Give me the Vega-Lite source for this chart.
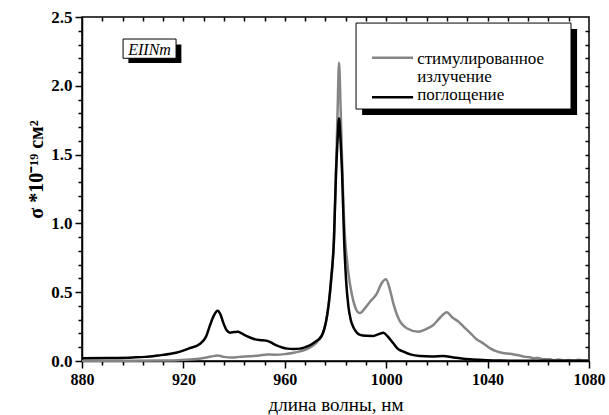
{
  "$schema": "https://vega.github.io/schema/vega-lite/v6.json",
  "width": 507,
  "height": 344,
  "autosize": {"type": "none"},
  "padding": {"left": 82, "top": 17, "right": 20, "bottom": 54},
  "background": "white",
  "config": {
    "font": "Liberation Serif",
    "view": {"stroke": "black", "strokeWidth": 1.5},
    "axis": {
      "grid": false,
      "domainColor": "black",
      "domainWidth": 1.5,
      "tickColor": "black",
      "tickWidth": 1.5,
      "labelColor": "black",
      "titleColor": "black",
      "labelFlush": false
    }
  },
  "datasets": {
    "spectra": [
      {"series": "стимулированное излучение", "nm": 880, "sigma": 0.002},
      {"series": "стимулированное излучение", "nm": 890, "sigma": 0.002},
      {"series": "стимулированное излучение", "nm": 900, "sigma": 0.002},
      {"series": "стимулированное излучение", "nm": 910, "sigma": 0.003},
      {"series": "стимулированное излучение", "nm": 918, "sigma": 0.005},
      {"series": "стимулированное излучение", "nm": 924, "sigma": 0.012},
      {"series": "стимулированное излучение", "nm": 928, "sigma": 0.022},
      {"series": "стимулированное излучение", "nm": 931, "sigma": 0.033},
      {"series": "стимулированное излучение", "nm": 933.5, "sigma": 0.04},
      {"series": "стимулированное излучение", "nm": 936, "sigma": 0.03},
      {"series": "стимулированное излучение", "nm": 939, "sigma": 0.025},
      {"series": "стимулированное излучение", "nm": 942, "sigma": 0.03},
      {"series": "стимулированное излучение", "nm": 946, "sigma": 0.034},
      {"series": "стимулированное излучение", "nm": 950, "sigma": 0.04},
      {"series": "стимулированное излучение", "nm": 953, "sigma": 0.048},
      {"series": "стимулированное излучение", "nm": 956, "sigma": 0.046},
      {"series": "стимулированное излучение", "nm": 960, "sigma": 0.05},
      {"series": "стимулированное излучение", "nm": 963, "sigma": 0.058},
      {"series": "стимулированное излучение", "nm": 966, "sigma": 0.07},
      {"series": "стимулированное излучение", "nm": 968.5, "sigma": 0.085},
      {"series": "стимулированное излучение", "nm": 971, "sigma": 0.11},
      {"series": "стимулированное излучение", "nm": 973, "sigma": 0.145},
      {"series": "стимулированное излучение", "nm": 974.5, "sigma": 0.18},
      {"series": "стимулированное излучение", "nm": 975.5, "sigma": 0.23},
      {"series": "стимулированное излучение", "nm": 976.5, "sigma": 0.31},
      {"series": "стимулированное излучение", "nm": 977.2, "sigma": 0.4},
      {"series": "стимулированное излучение", "nm": 978, "sigma": 0.52},
      {"series": "стимулированное излучение", "nm": 978.8, "sigma": 0.7},
      {"series": "стимулированное излучение", "nm": 979.4, "sigma": 0.9},
      {"series": "стимулированное излучение", "nm": 980.2, "sigma": 1.38},
      {"series": "стимулированное излучение", "nm": 980.8, "sigma": 1.8},
      {"series": "стимулированное излучение", "nm": 981.4, "sigma": 2.168},
      {"series": "стимулированное излучение", "nm": 982, "sigma": 1.85},
      {"series": "стимулированное излучение", "nm": 982.6, "sigma": 1.45},
      {"series": "стимулированное излучение", "nm": 983.2, "sigma": 1.1},
      {"series": "стимулированное излучение", "nm": 983.8, "sigma": 0.88},
      {"series": "стимулированное излучение", "nm": 984.5, "sigma": 0.74},
      {"series": "стимулированное излучение", "nm": 985.1, "sigma": 0.637},
      {"series": "стимулированное излучение", "nm": 986.5, "sigma": 0.48},
      {"series": "стимулированное излучение", "nm": 987.7, "sigma": 0.395},
      {"series": "стимулированное излучение", "nm": 988.8, "sigma": 0.355},
      {"series": "стимулированное излучение", "nm": 989.7, "sigma": 0.348},
      {"series": "стимулированное излучение", "nm": 991, "sigma": 0.37},
      {"series": "стимулированное излучение", "nm": 993.6, "sigma": 0.431},
      {"series": "стимулированное излучение", "nm": 996.3, "sigma": 0.49},
      {"series": "стимулированное излучение", "nm": 998.2, "sigma": 0.565},
      {"series": "стимулированное излучение", "nm": 999.9, "sigma": 0.594},
      {"series": "стимулированное излучение", "nm": 1001.5, "sigma": 0.516},
      {"series": "стимулированное излучение", "nm": 1002.8, "sigma": 0.419},
      {"series": "стимулированное излучение", "nm": 1004.8, "sigma": 0.31},
      {"series": "стимулированное излучение", "nm": 1008.1, "sigma": 0.238},
      {"series": "стимулированное излучение", "nm": 1012.7, "sigma": 0.213},
      {"series": "стимулированное излучение", "nm": 1015.5, "sigma": 0.23},
      {"series": "стимулированное излучение", "nm": 1018.6, "sigma": 0.262},
      {"series": "стимулированное излучение", "nm": 1021.5, "sigma": 0.32},
      {"series": "стимулированное излучение", "nm": 1023.9, "sigma": 0.354},
      {"series": "стимулированное излучение", "nm": 1026, "sigma": 0.318},
      {"series": "стимулированное излучение", "nm": 1028.5, "sigma": 0.286},
      {"series": "стимулированное излучение", "nm": 1030.5, "sigma": 0.25},
      {"series": "стимулированное излучение", "nm": 1033.1, "sigma": 0.205},
      {"series": "стимулированное излучение", "nm": 1035.5, "sigma": 0.16},
      {"series": "стимулированное излучение", "nm": 1038.3, "sigma": 0.128},
      {"series": "стимулированное излучение", "nm": 1041, "sigma": 0.092},
      {"series": "стимулированное излучение", "nm": 1043.6, "sigma": 0.07},
      {"series": "стимулированное излучение", "nm": 1046, "sigma": 0.058},
      {"series": "стимулированное излучение", "nm": 1048.8, "sigma": 0.052},
      {"series": "стимулированное излучение", "nm": 1051, "sigma": 0.045},
      {"series": "стимулированное излучение", "nm": 1053, "sigma": 0.038},
      {"series": "стимулированное излучение", "nm": 1055, "sigma": 0.03},
      {"series": "стимулированное излучение", "nm": 1056.7, "sigma": 0.027},
      {"series": "стимулированное излучение", "nm": 1058, "sigma": 0.02},
      {"series": "стимулированное излучение", "nm": 1060, "sigma": 0.022},
      {"series": "стимулированное излучение", "nm": 1062, "sigma": 0.012},
      {"series": "стимулированное излучение", "nm": 1064.6, "sigma": 0.012},
      {"series": "стимулированное излучение", "nm": 1066, "sigma": 0.006},
      {"series": "стимулированное излучение", "nm": 1068, "sigma": 0.01},
      {"series": "стимулированное излучение", "nm": 1070, "sigma": 0.004},
      {"series": "стимулированное излучение", "nm": 1072, "sigma": 0.008},
      {"series": "стимулированное излучение", "nm": 1074, "sigma": 0.003},
      {"series": "стимулированное излучение", "nm": 1076, "sigma": 0.009},
      {"series": "стимулированное излучение", "nm": 1078, "sigma": 0.003},
      {"series": "стимулированное излучение", "nm": 1080, "sigma": 0.004},
      {"series": "поглощение", "nm": 880, "sigma": 0.02},
      {"series": "поглощение", "nm": 890, "sigma": 0.022},
      {"series": "поглощение", "nm": 900, "sigma": 0.026},
      {"series": "поглощение", "nm": 905, "sigma": 0.03},
      {"series": "поглощение", "nm": 910, "sigma": 0.04},
      {"series": "поглощение", "nm": 915, "sigma": 0.052},
      {"series": "поглощение", "nm": 918.7, "sigma": 0.068},
      {"series": "поглощение", "nm": 922, "sigma": 0.09},
      {"series": "поглощение", "nm": 926.6, "sigma": 0.125},
      {"series": "поглощение", "nm": 929, "sigma": 0.18},
      {"series": "поглощение", "nm": 930.5, "sigma": 0.26},
      {"series": "поглощение", "nm": 932, "sigma": 0.33},
      {"series": "поглощение", "nm": 933.5, "sigma": 0.366},
      {"series": "поглощение", "nm": 934.6, "sigma": 0.34},
      {"series": "поглощение", "nm": 935.7, "sigma": 0.28},
      {"series": "поглощение", "nm": 937, "sigma": 0.225},
      {"series": "поглощение", "nm": 938.4, "sigma": 0.206},
      {"series": "поглощение", "nm": 940, "sigma": 0.21},
      {"series": "поглощение", "nm": 941.5, "sigma": 0.213},
      {"series": "поглощение", "nm": 943, "sigma": 0.2},
      {"series": "поглощение", "nm": 945, "sigma": 0.18},
      {"series": "поглощение", "nm": 947.5, "sigma": 0.162},
      {"series": "поглощение", "nm": 950, "sigma": 0.152},
      {"series": "поглощение", "nm": 952.6, "sigma": 0.148},
      {"series": "поглощение", "nm": 954.5, "sigma": 0.135},
      {"series": "поглощение", "nm": 956.5, "sigma": 0.115},
      {"series": "поглощение", "nm": 959, "sigma": 0.098},
      {"series": "поглощение", "nm": 961, "sigma": 0.09},
      {"series": "поглощение", "nm": 963.4, "sigma": 0.087},
      {"series": "поглощение", "nm": 966, "sigma": 0.09},
      {"series": "поглощение", "nm": 968, "sigma": 0.1},
      {"series": "поглощение", "nm": 970, "sigma": 0.115},
      {"series": "поглощение", "nm": 972, "sigma": 0.14},
      {"series": "поглощение", "nm": 973.5, "sigma": 0.16},
      {"series": "поглощение", "nm": 975, "sigma": 0.2},
      {"series": "поглощение", "nm": 976.2, "sigma": 0.28},
      {"series": "поглощение", "nm": 977.2, "sigma": 0.395},
      {"series": "поглощение", "nm": 978.3, "sigma": 0.6},
      {"series": "поглощение", "nm": 979.4, "sigma": 0.88},
      {"series": "поглощение", "nm": 980.2, "sigma": 1.364},
      {"series": "поглощение", "nm": 980.8, "sigma": 1.6},
      {"series": "поглощение", "nm": 981.4, "sigma": 1.764},
      {"series": "поглощение", "nm": 982, "sigma": 1.6},
      {"series": "поглощение", "nm": 982.6, "sigma": 1.364},
      {"series": "поглощение", "nm": 983.4, "sigma": 0.88},
      {"series": "поглощение", "nm": 984.2, "sigma": 0.58},
      {"series": "поглощение", "nm": 985.1, "sigma": 0.395},
      {"series": "поглощение", "nm": 986, "sigma": 0.3},
      {"series": "поглощение", "nm": 987.2, "sigma": 0.24},
      {"series": "поглощение", "nm": 988.5, "sigma": 0.205},
      {"series": "поглощение", "nm": 989.7, "sigma": 0.19},
      {"series": "поглощение", "nm": 992, "sigma": 0.183},
      {"series": "поглощение", "nm": 994.9, "sigma": 0.182},
      {"series": "поглощение", "nm": 997, "sigma": 0.195},
      {"series": "поглощение", "nm": 998.9, "sigma": 0.206},
      {"series": "поглощение", "nm": 1000.5, "sigma": 0.18},
      {"series": "поглощение", "nm": 1002.8, "sigma": 0.129},
      {"series": "поглощение", "nm": 1004.5, "sigma": 0.09},
      {"series": "поглощение", "nm": 1006.8, "sigma": 0.068},
      {"series": "поглощение", "nm": 1009.5, "sigma": 0.048},
      {"series": "поглощение", "nm": 1013.3, "sigma": 0.036},
      {"series": "поглощение", "nm": 1018, "sigma": 0.033},
      {"series": "поглощение", "nm": 1022.5, "sigma": 0.036},
      {"series": "поглощение", "nm": 1026, "sigma": 0.028},
      {"series": "поглощение", "nm": 1029.1, "sigma": 0.02},
      {"series": "поглощение", "nm": 1033, "sigma": 0.012},
      {"series": "поглощение", "nm": 1039.6, "sigma": 0.006},
      {"series": "поглощение", "nm": 1045, "sigma": 0.003},
      {"series": "поглощение", "nm": 1050, "sigma": 0.002},
      {"series": "поглощение", "nm": 1060, "sigma": 0.001},
      {"series": "поглощение", "nm": 1070, "sigma": 0.001},
      {"series": "поглощение", "nm": 1080, "sigma": 0.001}
    ]
  },
  "data": {"name": "spectra"},
  "layer": [
    {
      "mark": {"type": "line", "strokeWidth": 2.5, "interpolate": "monotone"},
      "encoding": {
        "x": {
          "field": "nm", "type": "quantitative",
          "scale": {"domain": [880, 1080], "nice": false, "zero": false},
          "axis": {
            "orient": "bottom", "values": [880, 920, 960, 1000, 1040, 1080], "format": "d",
            "tickSize": 7, "labelPadding": 3, "labelFlush": false,
            "labelFont": "Liberation Serif", "labelFontWeight": "bold", "labelFontSize": 16,
            "title": "длина волны, нм",
            "titleFont": "Liberation Serif", "titleFontWeight": "normal", "titleFontSize": 19,
            "titlePadding": 8
          }
        },
        "y": {
          "field": "sigma", "type": "quantitative",
          "scale": {"domain": [0, 2.5], "nice": false},
          "axis": {
            "orient": "left", "values": [0, 0.5, 1, 1.5, 2, 2.5], "format": ".1f",
            "tickSize": 7, "labelPadding": 3, "labelFlush": false,
            "labelFont": "Liberation Serif", "labelFontWeight": "bold", "labelFontSize": 17,
            "title": "σ *10⁻¹⁹ см²",
            "titleFont": "Liberation Serif", "titleFontWeight": "bold", "titleFontSize": 20,
            "titlePadding": 4, "titleY": 152
          }
        },
        "color": {
          "field": "series", "type": "nominal",
          "scale": {"domain": ["стимулированное излучение", "поглощение"], "range": ["#858585", "#000000"]},
          "legend": null
        }
      }
    },
    {
      "mark": {"type": "point", "opacity": 0},
      "encoding": {
        "x": {
          "field": "nm", "type": "quantitative",
          "scale": {"domain": [880, 1080], "nice": false, "zero": false},
          "axis": {
            "orient": "bottom", "labels": false, "domain": false, "title": null, "tickSize": 4,
            "values": [888, 896, 904, 912, 928, 936, 944, 952, 968, 976, 984, 992, 1008, 1016, 1024, 1032, 1048, 1056, 1064, 1072]
          }
        },
        "y": {
          "field": "sigma", "type": "quantitative",
          "scale": {"domain": [0, 2.5], "nice": false},
          "axis": {
            "orient": "left", "labels": false, "domain": false, "title": null, "tickSize": 4,
            "values": [0.1, 0.2, 0.3, 0.4, 0.6, 0.7, 0.8, 0.9, 1.1, 1.2, 1.3, 1.4, 1.6, 1.7, 1.8, 1.9, 2.1, 2.2, 2.3, 2.4]
          }
        }
      }
    },
    {
      "mark": {"type": "point", "opacity": 0},
      "encoding": {
        "x": {
          "field": "nm", "type": "quantitative",
          "scale": {"domain": [880, 1080], "nice": false, "zero": false},
          "axis": {
            "orient": "top", "labels": false, "title": null, "domain": false, "tickSize": 4, "offset": -4,
            "values": [888, 896, 904, 912, 920, 928, 936, 944, 952, 960, 968, 976, 984, 992, 1000, 1008, 1016, 1024, 1032, 1040, 1048, 1056, 1064, 1072]
          }
        },
        "y": {
          "field": "sigma", "type": "quantitative",
          "scale": {"domain": [0, 2.5], "nice": false},
          "axis": {
            "orient": "right", "labels": false, "title": null, "domain": false, "tickSize": 4, "offset": -4,
            "values": [0.1, 0.2, 0.3, 0.4, 0.5, 0.6, 0.7, 0.8, 0.9, 1, 1.1, 1.2, 1.3, 1.4, 1.5, 1.6, 1.7, 1.8, 1.9, 2, 2.1, 2.2, 2.3, 2.4]
          }
        }
      }
    },
    {
      "data": {"values": [{}]},
      "mark": {"type": "rect", "fill": "black"},
      "encoding": {
        "x": {"datum": 898.3, "type": "quantitative", "axis": null},
        "x2": {"datum": 919.2},
        "y": {"datum": 2.3, "type": "quantitative", "axis": null},
        "y2": {"datum": 2.166}
      }
    },
    {
      "data": {"values": [{}]},
      "mark": {"type": "rect", "fill": "white", "stroke": "black", "strokeWidth": 1},
      "encoding": {
        "x": {"datum": 896.2, "type": "quantitative", "axis": null},
        "x2": {"datum": 917.1},
        "y": {"datum": 2.34, "type": "quantitative", "axis": null},
        "y2": {"datum": 2.2}
      }
    },
    {
      "data": {"values": [{}]},
      "mark": {"type": "text", "text": "EIINm", "font": "Liberation Serif", "fontStyle": "italic", "fontSize": 16, "align": "center", "baseline": "alphabetic", "color": "black"},
      "encoding": {
        "x": {"datum": 906.65, "type": "quantitative", "axis": null},
        "y": {"datum": 2.224, "type": "quantitative", "axis": null}
      }
    },
    {
      "data": {"values": [{}]},
      "mark": {"type": "rect", "fill": "black"},
      "encoding": {
        "x": {"datum": 990.5, "type": "quantitative", "axis": null},
        "x2": {"datum": 1075.3},
        "y": {"datum": 2.413, "type": "quantitative", "axis": null},
        "y2": {"datum": 1.788}
      }
    },
    {
      "data": {"values": [{}]},
      "mark": {"type": "rect", "fill": "white", "stroke": "black", "strokeWidth": 1},
      "encoding": {
        "x": {"datum": 988.1, "type": "quantitative", "axis": null},
        "x2": {"datum": 1072.9},
        "y": {"datum": 2.456, "type": "quantitative", "axis": null},
        "y2": {"datum": 1.831}
      }
    },
    {
      "data": {"values": [{}]},
      "mark": {"type": "rule", "stroke": "#858585", "strokeWidth": 2.5},
      "encoding": {
        "x": {"datum": 994.4, "type": "quantitative", "axis": null},
        "x2": {"datum": 1010.6},
        "y": {"datum": 2.204, "type": "quantitative", "axis": null}
      }
    },
    {
      "data": {"values": [{}]},
      "mark": {"type": "rule", "stroke": "black", "strokeWidth": 2.5},
      "encoding": {
        "x": {"datum": 994.4, "type": "quantitative", "axis": null},
        "x2": {"datum": 1010.6},
        "y": {"datum": 1.916, "type": "quantitative", "axis": null}
      }
    },
    {
      "data": {"values": [{"line": "стимулированное", "pos": 2.162}, {"line": "излучение", "pos": 2.028}, {"line": "поглощение", "pos": 1.894}]},
      "mark": {"type": "text", "font": "Liberation Serif", "fontSize": 17, "align": "left", "baseline": "alphabetic", "color": "black"},
      "encoding": {
        "x": {"datum": 1012.2, "type": "quantitative", "axis": null},
        "y": {"field": "pos", "type": "quantitative", "axis": null},
        "text": {"field": "line"}
      }
    }
  ],
  "resolve": {"axis": {"x": "independent", "y": "independent"}}
}
